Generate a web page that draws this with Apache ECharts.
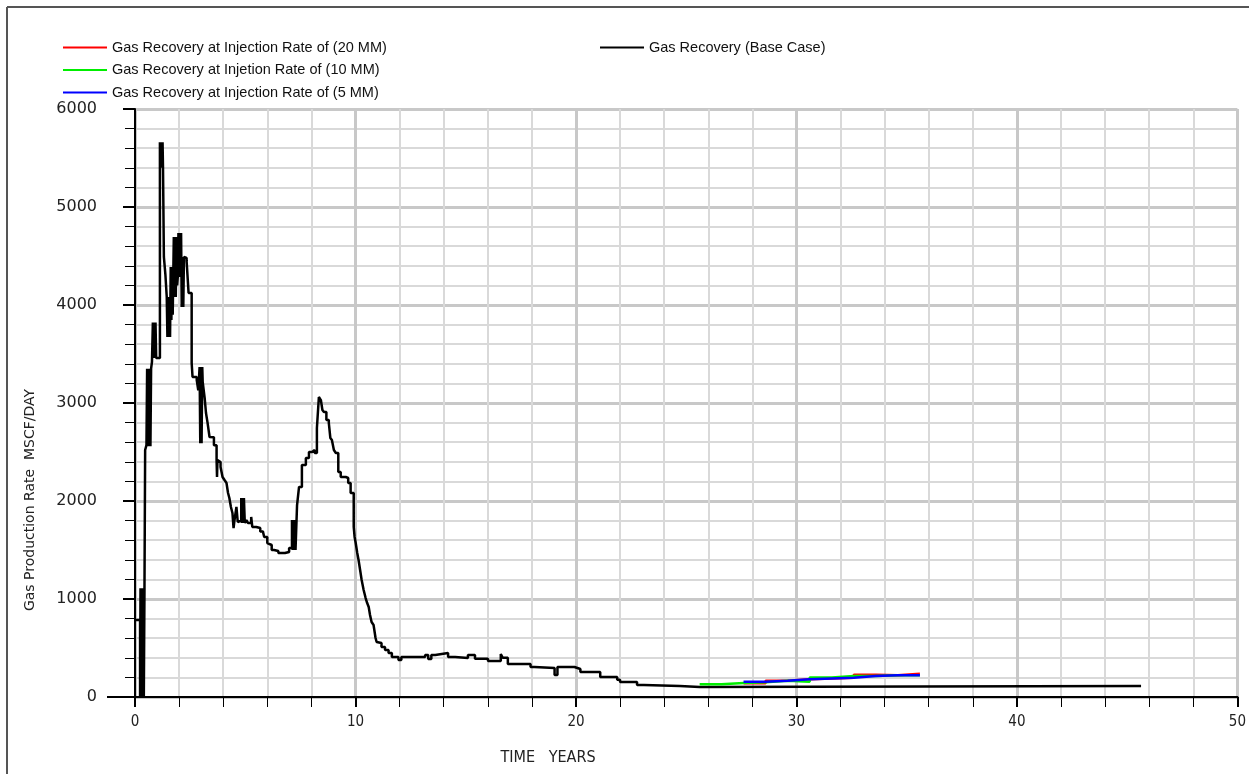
<!DOCTYPE html>
<html>
<head>
<meta charset="utf-8">
<script src="https://cdn.jsdelivr.net/npm/echarts@6/dist/echarts.min.js"></script>
<style>
html,body{margin:0;padding:0;background:#fff;}
#chart{width:1249px;height:774px;}
</style>
</head>
<body>
<div id="chart"></div>
<script>
// ---------- data (years, MSCF/DAY) ----------
const seriesNames = [
  'Gas Recovery at Injection Rate of (20 MM)',
  'Gas Recovery at Injetion Rate of (10 MM)',
  'Gas Recovery at Injection Rate of (5 MM)',
  'Gas Recovery (Base Case)'
];
const xTicks = [0, 10, 20, 30, 40, 50];
const yTicks = [0, 1000, 2000, 3000, 4000, 5000, 6000];

const baseCase = [
  [0, 785],
  [0.23, 0], [0.25, 1110], [0.27, 0], [0.30, 1110], [0.33, 0], [0.36, 1110], [0.40, 0], [0.43, 1110],
  [0.46, 2520], [0.52, 2570],
  [0.55, 3350], [0.58, 2560], [0.61, 3350], [0.64, 2560], [0.67, 3350], [0.70, 2560], [0.73, 3350], [0.77, 3420],
  [0.81, 3820], [0.84, 3460], [0.87, 3820], [0.90, 3460], [0.93, 3820], [0.96, 3460],
  [1.13, 5660], [1.16, 5400], [1.19, 5660], [1.22, 5400], [1.25, 5660], [1.27, 5400],
  [1.31, 4490], [1.38, 4306],
  [1.44, 4082], [1.47, 3673], [1.50, 4082], [1.53, 3673], [1.56, 4082], [1.59, 3673],
  [1.62, 4388], [1.65, 3847], [1.68, 4388], [1.71, 3900],
  [1.76, 4694], [1.79, 4082], [1.82, 4694], [1.85, 4082], [1.88, 4694], [1.91, 4200],
  [1.94, 4286], [1.97, 4735], [2.00, 4286], [2.03, 4735], [2.06, 4286], [2.09, 4735],
  [2.12, 3980], [2.16, 4490], [2.19, 3980], [2.22, 4490],
  [2.25, 4480], [2.34, 4450],
  [2.43, 4122], [2.57, 3408], [2.61, 3265], [2.80, 3235], [2.87, 3130],
  [2.93, 3367], [2.96, 2590], [2.99, 3367], [3.02, 2590], [3.05, 3367],
  [3.07, 3214], [3.16, 3050], [3.22, 2898], [3.29, 2800], [3.38, 2653],
  [3.47, 2650], [3.58, 2570],
  [3.70, 2418], [3.72, 2245], [3.74, 2418], [3.76, 2398], [3.88, 2347],
  [3.97, 2245], [4.06, 2214], [4.15, 2184], [4.22, 2082], [4.28, 2030], [4.35, 1939],
  [4.42, 1878], [4.47, 1724], [4.51, 1800],
  [4.60, 1939], [4.66, 1786], [4.73, 1800],
  [4.82, 2030], [4.85, 1776], [4.88, 2030], [4.91, 1776], [4.94, 2030], [4.98, 1776],
  [5.05, 1806], [5.12, 1776], [5.27, 1837], [5.32, 1735], [5.50, 1724], [5.68, 1690], [5.80, 1673],
  [5.86, 1633], [6.00, 1571], [6.09, 1551], [6.20, 1500], [6.31, 1490], [6.50, 1469], [6.80, 1480],
  [6.99, 1520],
  [7.12, 1806], [7.15, 1500], [7.18, 1806], [7.21, 1500], [7.24, 1806], [7.28, 1500],
  [7.35, 1959], [7.44, 2143], [7.57, 2367], [7.75, 2439], [7.89, 2500], [8.03, 2520], [8.15, 2490],
  [8.25, 2745], [8.34, 3061], [8.43, 3030], [8.50, 2929], [8.57, 2908], [8.68, 2826],
  [8.79, 2796], [8.86, 2643], [8.93, 2622], [9.02, 2520], [9.11, 2490], [9.22, 2296],
  [9.33, 2245], [9.56, 2235], [9.67, 2184], [9.78, 2082], [9.92, 1735], [9.96, 1633],
  [10.01, 1571], [10.08, 1469], [10.14, 1398], [10.21, 1296], [10.28, 1194], [10.37, 1092],
  [10.46, 1010], [10.53, 959], [10.60, 918], [10.66, 837], [10.73, 765], [10.82, 735],
  [10.91, 602], [10.96, 561], [11.00, 551], [11.18, 510], [11.34, 480], [11.50, 449], [11.65, 408],
  [11.81, 408], [11.95, 378], [12.08, 408], [13.16, 429], [13.30, 388], [13.44, 429],
  [13.62, 449], [14.20, 408], [14.52, 398], [15.10, 429], [15.42, 390], [16.01, 367],
  [16.59, 439], [16.68, 400], [16.91, 337], [17.94, 306], [18.12, 296], [19.03, 224],
  [19.16, 306], [19.93, 286], [20.20, 255], [21.10, 204], [21.87, 175], [22.00, 153],
  [22.77, 122], [23.08, 112], [24.71, 102], [25.61, 112], [45.63, 112]
];

const rate20 = [
  [27.6, 140], [28.6, 167], [29.6, 180], [30.6, 190], [31.6, 197],
  [32.6, 228], [33.6, 221], [34.6, 238], [35.6, 238]
];
const rate10 = [
  [25.61, 130], [26.6, 143], [27.6, 150], [28.6, 165], [29.6, 156],
  [30.6, 200], [31.6, 214], [32.6, 214], [33.6, 221], [34.6, 221], [35.6, 221]
];
const rate5 = [
  [27.6, 156], [28.6, 167], [29.6, 180], [30.6, 190], [31.6, 197],
  [32.6, 214], [33.6, 221], [34.6, 221], [35.6, 221]
];

// ---------- chart ----------
const chart = echarts.init(document.getElementById('chart'), null, {renderer: 'canvas'});

function lineSeries(name, data, color, z, width) {
  return {
    name: name, type: 'line', data: data, step: 'end',
    showSymbol: false, symbol: 'none', z: z,
    lineStyle: {color: color, width: width},
    itemStyle: {color: color},
    animation: false
  };
}

const legendText = {fontFamily: 'Liberation Sans, Arial, sans-serif', fontSize: 14.5, color: '#111'};

chart.setOption({
  animation: false,
  backgroundColor: '#fff',
  grid: {left: 135, top: 109, width: 1109, height: 588, containLabel: false},
  legend: [
    {
      data: seriesNames.slice(0, 3), orient: 'vertical', left: 63, top: 40, padding: 0,
      icon: 'rect', itemWidth: 44, itemHeight: 2, itemGap: 7.5,
      textStyle: legendText, selectedMode: false
    },
    {
      data: [seriesNames[3]], orient: 'vertical', left: 600, top: 40, padding: 0,
      icon: 'rect', itemWidth: 44, itemHeight: 2,
      textStyle: legendText, selectedMode: false
    }
  ],
  xAxis: {
    type: 'value', min: xTicks[0], max: xTicks[xTicks.length - 1], interval: 10,
    axisLine: {show: true, onZero: false, lineStyle: {color: '#000', width: 2}},
    axisTick: {show: true, inside: false, length: 10, lineStyle: {color: '#000', width: 2}},
    minorTick: {show: true, splitNumber: 5, length: 10, lineStyle: {color: '#000', width: 1}},
    splitLine: {show: true, lineStyle: {color: '#c8c8c8', width: 3}},
    minorSplitLine: {show: true, lineStyle: {color: '#d9d9d9', width: 2}},
    axisLabel: {
      margin: 18, color: '#222', fontSize: 15,
      fontFamily: 'Liberation Sans Narrow, DejaVu Sans Condensed, sans-serif'
    }
  },
  yAxis: {
    type: 'value', min: yTicks[0], max: yTicks[yTicks.length - 1], interval: 1000,
    axisLine: {show: true, onZero: false, lineStyle: {color: '#000', width: 2}},
    axisTick: {show: true, inside: false, length: 12, lineStyle: {color: '#000', width: 2}},
    minorTick: {show: true, splitNumber: 5, length: 10, lineStyle: {color: '#000', width: 1}},
    splitLine: {show: true, lineStyle: {color: '#c8c8c8', width: 3}},
    minorSplitLine: {show: true, lineStyle: {color: '#d9d9d9', width: 2}},
    axisLabel: {
      margin: 38, color: '#222', fontSize: 16,
      fontFamily: 'DejaVu Sans, sans-serif',
      formatter: function (v) { return String(v); }
    }
  },
  graphic: [
    {type: 'line', shape: {x1: 7, y1: 7, x2: 1249, y2: 7}, style: {stroke: '#555', lineWidth: 2}},
    {type: 'line', shape: {x1: 7, y1: 7, x2: 7, y2: 774}, style: {stroke: '#555', lineWidth: 2}},
    {type: 'line', shape: {x1: 107, y1: 697, x2: 135, y2: 697}, style: {stroke: '#000', lineWidth: 2}},
    {
      type: 'text', x: 548, y: 758,
      style: {
        text: 'TIME   YEARS', align: 'center', verticalAlign: 'middle',
        font: '16px "Liberation Sans Narrow", "DejaVu Sans Condensed", sans-serif', fill: '#222'
      }
    },
    {
      type: 'text', x: 30, y: 500, rotation: Math.PI / 2,
      style: {
        text: 'Gas Production Rate  MSCF/DAY', align: 'center', verticalAlign: 'middle',
        font: '14px "DejaVu Sans", sans-serif', fill: '#222'
      }
    }
  ],
  series: [
    lineSeries(seriesNames[3], baseCase, '#000000', 2, 2.5),
    lineSeries(seriesNames[0], rate20, '#ff0000', 3, 2.5),
    lineSeries(seriesNames[1], rate10, '#00ee00', 4, 2.5),
    lineSeries(seriesNames[2], rate5, '#0000ff', 5, 2.5)
  ]
});
</script>
</body>
</html>
